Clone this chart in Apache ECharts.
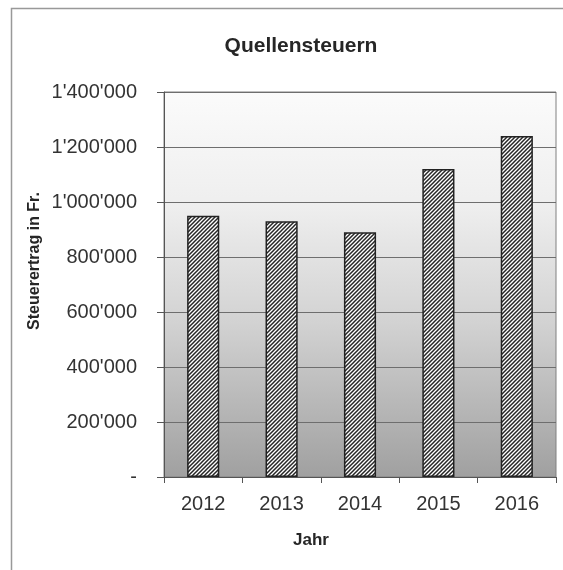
<!DOCTYPE html>
<html>
<head>
<meta charset="utf-8">
<script src="https://cdn.jsdelivr.net/npm/echarts@6/dist/echarts.min.js"></script>
<style>
html,body{margin:0;padding:0;background:#fff;}
#chart{width:563px;height:570px;}
</style>
</head>
<body>
<div id="chart"></div>
<script>
var categories = ['2012', '2013', '2014', '2015', '2016'];
var values = [950000, 930000, 890000, 1120000, 1240000];
var titleText = 'Quellensteuern';
var yAxisTitle = 'Steuerertrag in Fr.';
var xAxisTitle = 'Jahr';

function fmt(v) {
  if (v === 0) return '-';
  var s = String(Math.round(v));
  return s.replace(/\B(?=(\d{3})+(?!\d))/g, "'");
}

// hatch pattern
var pc = document.createElement('canvas');
pc.width = 4; pc.height = 4;
var g = pc.getContext('2d');
g.fillStyle = '#ffffff';
g.fillRect(0, 0, 4, 4);
g.strokeStyle = '#262626';
g.lineWidth = 1.5;
g.beginPath();
g.moveTo(-1, 5); g.lineTo(5, -1);
g.moveTo(-1, 1); g.lineTo(1, -1);
g.moveTo(3, 5); g.lineTo(5, 3);
g.stroke();

var FONT = '"Liberation Sans", Arial, sans-serif';
var chart = echarts.init(document.getElementById('chart'), null, {renderer: 'canvas'});
chart.setOption({
  animation: false,
  backgroundColor: '#ffffff',
  textStyle: {fontFamily: FONT},
  grid: {
    left: 164, right: 7, top: 92, bottom: 93,
    show: true,
    borderColor: '#808080',
    borderWidth: 1,
    backgroundColor: {
      type: 'linear', x: 0, y: 0, x2: 0, y2: 1,
      colorStops: [
        {offset: 0, color: '#fbfbfb'},
        {offset: 0.3, color: '#eeeeee'},
        {offset: 0.6, color: '#d2d2d2'},
        {offset: 1, color: '#a0a0a0'}
      ]
    }
  },
  graphic: [
    {type: 'rect', shape: {x: 11.5, y: 8.5, width: 600, height: 600}, style: {fill: 'none', stroke: '#999999', lineWidth: 1.5}, z: -1},
    {type: 'text', style: {text: titleText, font: 'bold 21px ' + FONT, fill: '#262626', textAlign: 'center', textVerticalAlign: 'middle'}, position: [301, 46]},
    {type: 'text', style: {text: xAxisTitle, font: 'bold 17px ' + FONT, fill: '#262626', textAlign: 'center', textVerticalAlign: 'middle'}, position: [311, 540]},
    {type: 'text', rotation: Math.PI / 2, style: {text: yAxisTitle, font: 'bold 16px ' + FONT, fill: '#262626', textAlign: 'center', textVerticalAlign: 'middle'}, position: [35, 261]}
  ],
  xAxis: {
    type: 'category',
    data: categories,
    axisLine: {show: true, lineStyle: {color: '#555', width: 1}},
    axisTick: {show: true, alignWithLabel: false, length: 6, lineStyle: {color: '#555'}},
    axisLabel: {fontSize: 20, color: '#333', margin: 17, fontFamily: FONT}
  },
  yAxis: {
    type: 'value',
    min: 0, max: 1400000, interval: 200000,
    axisLine: {show: true, lineStyle: {color: '#555', width: 1}},
    axisTick: {show: true, inside: false, length: 7, lineStyle: {color: '#555'}},
    splitLine: {show: true, lineStyle: {color: '#6e6e6e', width: 1}},
    axisLabel: {fontSize: 20, color: '#333', margin: 27, formatter: fmt, fontFamily: FONT}
  },
  series: [{
    type: 'bar',
    data: values,
    barWidth: '41%',
    itemStyle: {
      color: {image: pc, repeat: 'repeat'},
      borderColor: '#222',
      borderWidth: 1.5
    }
  }]
});
</script>
</body>
</html>
